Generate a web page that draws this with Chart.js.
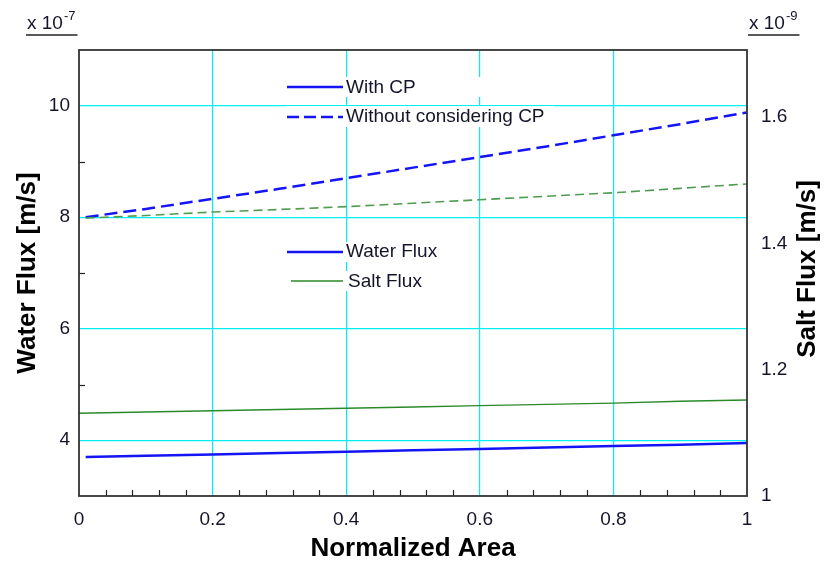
<!DOCTYPE html>
<html><head><meta charset="utf-8">
<script src="https://cdn.jsdelivr.net/npm/chart.js@4.4.0/dist/chart.umd.min.js"></script>
<style>html,body{margin:0;padding:0;background:#fff}canvas{display:block}</style>
</head><body>
<div style="width:825px;height:566px"><canvas id="c" width="825" height="566"></canvas></div>
<script>
// ---- data ----
const xValues        = [0.01, 0.1, 0.2, 0.3, 0.4, 0.5, 0.6, 0.7, 0.8, 0.9, 1.0];
const saltXValues    = [0.0, 0.1, 0.2, 0.3, 0.4, 0.5, 0.6, 0.7, 0.8, 0.9, 1.0];
const waterWithCP    = [3.70, 3.72, 3.745, 3.77, 3.795, 3.82, 3.845, 3.87, 3.895, 3.92, 3.95];      // x 1e-7 m/s
const waterWithoutCP = [8.00, 8.15, 8.33, 8.51, 8.70, 8.89, 9.08, 9.27, 9.47, 9.67, 9.88];           // x 1e-7 m/s
const saltWithCP     = [1.131, 1.133, 1.135, 1.137, 1.139, 1.141, 1.143, 1.145, 1.147, 1.150, 1.152]; // x 1e-9 m/s
const saltWithoutCP  = [1.440, 1.444, 1.4495, 1.4535, 1.458, 1.4635, 1.469, 1.4745, 1.480, 1.487, 1.494];

// ---- tick labels ----
const xTicks      = [0, 0.2, 0.4, 0.6, 0.8, 1];
const xMinorTicks = [0.04,0.08,0.12,0.16,0.24,0.28,0.32,0.36,0.44,0.48,0.52,0.56,0.64,0.68,0.72,0.76,0.84,0.88,0.92,0.96];
const leftTicks   = [4, 6, 8, 10];
const leftMinor   = [5, 7, 9];
const rightTicks  = [1, 1.2, 1.4, 1.6];
const leftExp  = '-7';
const rightExp = '-9';

const CYAN = '#00f0f4';
const BLUE = '#1414f5';
const GREEN = '#2a8a2a';
const GREEN_D = '#4f9c4f';
const TXT = '#15152a';
const FONT = 'Liberation Sans, Arial, sans-serif';

const toPts = (xs, ys) => xs.map((x, i) => ({x, y: ys[i]}));

const decor = {
  id: 'decor',
  afterDatasetsDraw(chart) {
    const ctx = chart.ctx;
    ctx.save();
    // legend backgrounds (rows)
    ctx.fillStyle = '#fff';
    [[286, 77, 268, 20], [286, 106, 268, 21], [286, 242, 172, 20], [286, 271, 172, 20]].forEach(r => ctx.fillRect(r[0], r[1], r[2], r[3]));
    // legend samples
    const line = (x1, x2, y, col, w, dash) => {
      ctx.beginPath(); ctx.setLineDash(dash || []); ctx.strokeStyle = col; ctx.lineWidth = w;
      ctx.moveTo(x1, y); ctx.lineTo(x2, y); ctx.stroke();
    };
    line(287, 343, 87, BLUE, 2.5);
    line(287, 343, 117, BLUE, 2.5, [12, 5]);
    line(287, 343, 252, BLUE, 2.5);
    line(291, 343, 281, GREEN, 1.5);
    ctx.setLineDash([]);
    ctx.fillStyle = TXT; ctx.font = '19px ' + FONT; ctx.textBaseline = 'middle'; ctx.textAlign = 'left';
    ctx.fillText('With CP', 346, 88);
    ctx.fillText('Without considering CP', 346, 117);
    ctx.fillText('Water Flux', 346, 252);
    ctx.fillText('Salt Flux', 348, 282);
    ctx.restore();
  },
  afterDraw(chart) {
    const ctx = chart.ctx;
    const a = chart.chartArea;
    const xs = chart.scales.x, yl = chart.scales.yL;
    ctx.save();
    // minor ticks
    ctx.strokeStyle = '#222'; ctx.lineWidth = 1.2;
    xMinorTicks.forEach(v => {
      const px = Math.round(xs.getPixelForValue(v)) + 0.5;
      ctx.beginPath(); ctx.moveTo(px, a.bottom); ctx.lineTo(px, a.bottom - 6); ctx.stroke();
    });
    leftMinor.forEach(v => {
      const py = Math.round(yl.getPixelForValue(v)) + 0.5;
      ctx.beginPath(); ctx.moveTo(a.left, py); ctx.lineTo(a.left + 6, py); ctx.stroke();
    });
    // frame
    ctx.strokeStyle = '#333'; ctx.lineWidth = 1.8;
    ctx.strokeRect(a.left, a.top, a.right - a.left, a.bottom - a.top);
    // exponent labels
    ctx.fillStyle = TXT; ctx.textBaseline = 'alphabetic'; ctx.textAlign = 'left';
    const expo = (x, e) => {
      ctx.font = '19px ' + FONT;
      ctx.fillText('x 10', x, 29);
      const w = ctx.measureText('x 10').width;
      ctx.font = '13px ' + FONT;
      ctx.fillText(e, x + w + 1, 20);
      const w2 = ctx.measureText(e).width;
      ctx.strokeStyle = '#222'; ctx.lineWidth = 1.3;
      ctx.beginPath(); ctx.moveTo(x - 1, 35); ctx.lineTo(x + w + w2 + 3, 35); ctx.stroke();
    };
    expo(27, leftExp);
    expo(749, rightExp);
    // right axis title (reads bottom to top)
    ctx.translate(808, 269); ctx.rotate(-Math.PI / 2);
    ctx.fillStyle = '#000';
    ctx.font = 'bold 26px ' + FONT; ctx.textAlign = 'center'; ctx.textBaseline = 'middle';
    ctx.fillText('Salt Flux [m/s]', 0, 0);
    ctx.restore();
  }
};

new Chart(document.getElementById('c'), {
  type: 'line',
  data: {
    datasets: [
      {label: 'Salt Flux with CP', data: toPts(saltXValues, saltWithCP), yAxisID: 'yR', borderColor: GREEN, borderWidth: 1.4, pointRadius: 0, tension: 0},
      {label: 'Salt Flux without CP', data: toPts(xValues, saltWithoutCP), yAxisID: 'yR', borderColor: GREEN_D, borderWidth: 1.6, borderDash: [9, 5], pointRadius: 0, tension: 0},
      {label: 'Water Flux with CP', data: toPts(xValues, waterWithCP), yAxisID: 'yL', borderColor: BLUE, borderWidth: 2.5, pointRadius: 0, tension: 0},
      {label: 'Water Flux without CP', data: toPts(xValues, waterWithoutCP), yAxisID: 'yL', borderColor: BLUE, borderWidth: 2.5, borderDash: [13, 6], pointRadius: 0, tension: 0}
    ]
  },
  options: {
    responsive: false, animation: false, devicePixelRatio: 1,
    layout: {padding: {top: 50, left: 0, right: 0, bottom: 0}},
    plugins: {legend: {display: false}, tooltip: {enabled: false}},
    scales: {
      x: {
        type: 'linear', position: 'bottom', min: 0, max: 1,
        afterBuildTicks: s => { s.ticks = xTicks.map(v => ({value: v})); },
        afterFit: s => { s.height = 70; },
        ticks: {callback: v => String(v), font: {family: FONT, size: 19}, color: TXT, padding: 12, maxRotation: 0, autoSkip: false},
        grid: {color: c => (c.tick && c.tick.value > 0 && c.tick.value < 1) ? CYAN : 'rgba(0,0,0,0)', lineWidth: 1.2, drawTicks: false},
        border: {display: false},
        title: {display: true, text: 'Normalized Area', font: {family: FONT, size: 26, weight: 'bold'}, color: '#000', padding: {top: 0, bottom: 2}}
      },
      yL: {
        type: 'linear', position: 'left', min: 3, max: 11,
        afterBuildTicks: s => { s.ticks = leftTicks.map(v => ({value: v})); },
        afterFit: s => { s.width = 79; },
        ticks: {callback: v => String(v), font: {family: FONT, size: 19}, color: TXT, padding: 9},
        grid: {color: CYAN, lineWidth: 1.2, drawTicks: false},
        border: {display: false},
        title: {display: true, text: 'Water Flux [m/s]', font: {family: FONT, size: 26, weight: 'bold'}, color: '#000', padding: {top: 12, bottom: 0}}
      },
      yR: {
        type: 'linear', position: 'right', min: 1, max: 1.706,
        afterBuildTicks: s => { s.ticks = rightTicks.map(v => ({value: v})); },
        afterFit: s => { s.width = 78; },
        ticks: {callback: v => String(v), font: {family: FONT, size: 19}, color: TXT, padding: 6},
        grid: {display: false, drawOnChartArea: false},
        border: {display: false}
      }
    }
  },
  plugins: [decor]
});
</script>
</body></html>
